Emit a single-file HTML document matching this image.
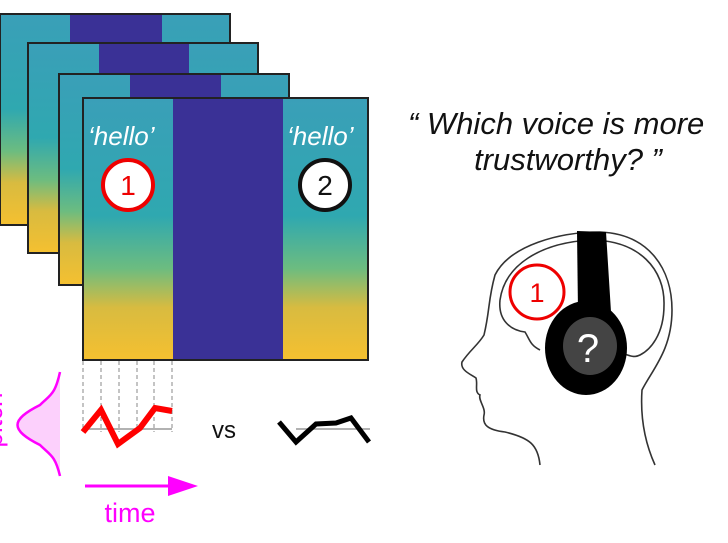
<!DOCTYPE html>
<html><head><meta charset="utf-8"><style>
html,body{margin:0;padding:0;background:#fff;width:728px;height:543px;overflow:hidden}
svg{display:block}
</style></head><body>
<svg width="728" height="543" viewBox="0 0 728 543" xmlns="http://www.w3.org/2000/svg">
<defs>
<linearGradient id="sp" x1="0" y1="0" x2="0" y2="1">
<stop offset="0" stop-color="#3a9fb8"/><stop offset="0.45" stop-color="#2fa8b0"/>
<stop offset="0.65" stop-color="#6cbc80"/><stop offset="0.8" stop-color="#d8bb40"/><stop offset="1" stop-color="#f5c030"/>
</linearGradient>
</defs>
<g stroke="#222" stroke-width="2">
<rect x="0" y="14" width="230" height="211" fill="url(#sp)"/>
<rect x="70" y="15" width="92" height="209" fill="#3a3196" stroke="none"/>
<rect x="28" y="43" width="230" height="210" fill="url(#sp)"/>
<rect x="99" y="44" width="90" height="208" fill="#3a3196" stroke="none"/>
<rect x="59" y="74" width="230" height="211" fill="url(#sp)"/>
<rect x="130" y="75" width="91" height="209" fill="#3a3196" stroke="none"/>
<rect x="83" y="98" width="285" height="262" fill="url(#sp)"/>
</g>
<rect x="173" y="99" width="110" height="260" fill="#3a3196"/>
<text x="88" y="145" font-family="Liberation Sans,sans-serif" font-style="italic" font-size="26" fill="#fff">‘hello’</text>
<text x="287" y="145" font-family="Liberation Sans,sans-serif" font-style="italic" font-size="26" fill="#fff">‘hello’</text>
<circle cx="128" cy="185" r="25" fill="#fff" stroke="#e00" stroke-width="4"/>
<text x="128" y="195" text-anchor="middle" font-family="Liberation Sans,sans-serif" font-size="28" fill="#e00">1</text>
<circle cx="325" cy="185" r="25" fill="#fff" stroke="#111" stroke-width="4"/>
<text x="325" y="195" text-anchor="middle" font-family="Liberation Sans,sans-serif" font-size="28" fill="#111">2</text>
<g stroke="#888" stroke-width="1" stroke-dasharray="4,3">
<line x1="83" y1="361" x2="83" y2="432"/><line x1="101" y1="361" x2="101" y2="432"/><line x1="119" y1="361" x2="119" y2="432"/><line x1="137" y1="361" x2="137" y2="432"/><line x1="154" y1="361" x2="154" y2="432"/><line x1="172" y1="361" x2="172" y2="432"/>
</g>
<line x1="83" y1="429" x2="172" y2="429" stroke="#999" stroke-width="1.5"/>
<polyline points="83,432 101,410 118,444 140,428 155,408 172,411" fill="none" stroke="#f00" stroke-width="6"/>
<text x="224" y="438" text-anchor="middle" font-family="Liberation Sans,sans-serif" font-size="24" fill="#111">vs</text>
<line x1="296" y1="429" x2="370" y2="429" stroke="#999" stroke-width="1.5"/>
<polyline points="279,422 296,442 316,424 336,423 351,418 369,442" fill="none" stroke="#000" stroke-width="5"/>
<path d="M60,372 C55,395 50,395 40,405 C10,420 10,430 40,445 C50,455 55,455 60,476 Z" fill="#fcd0fc"/>
<path d="M60,372 C55,395 50,395 40,405 C10,420 10,430 40,445 C50,455 55,455 60,476" fill="none" stroke="#f0f" stroke-width="2.5"/>
<text transform="translate(2,420) rotate(-90)" text-anchor="middle" font-family="Liberation Sans,sans-serif" font-size="26" fill="#f0f">pitch</text>
<line x1="85" y1="486" x2="172" y2="486" stroke="#f0f" stroke-width="3"/>
<polygon points="168,476 198,486 168,496" fill="#f0f"/>
<text x="130" y="522" text-anchor="middle" font-family="Liberation Sans,sans-serif" font-size="27" fill="#f0f">time</text>
<text x="408" y="134" font-family="Liberation Sans,sans-serif" font-style="italic" font-size="31" fill="#111">“ Which voice is more</text>
<text x="568" y="170" text-anchor="middle" font-family="Liberation Sans,sans-serif" font-style="italic" font-size="31" fill="#111">trustworthy? ”</text>
<g fill="none" stroke="#333" stroke-width="1.6">
<path d="M540,465 C538,445 530,438 505,432 C488,430 482,425 484,415 C486,408 478,400 480,395 C474,392 478,385 476,378 C470,374 460,370 462,362 C470,350 478,345 484,335 C490,310 488,300 495,275 C510,245 560,232 600,232 C650,234 672,270 672,310 C672,350 652,370 642,390 C640,420 646,445 655,465"/>
<path d="M500,300 C505,265 540,243 590,240 C640,240 665,270 664,305 C664,335 650,350 640,355 C630,360 625,350 615,355"/>
<path d="M500,300 C498,320 510,330 525,332 C530,340 530,345 540,350"/>
</g>
<circle cx="537" cy="292" r="27" fill="none" stroke="#e00" stroke-width="3"/>
<text x="537" y="302" text-anchor="middle" font-family="Liberation Sans,sans-serif" font-size="27" fill="#e00">1</text>
<path d="M577,231 L606,232 L611,312 L578,312 Z" fill="#000"/>
<ellipse cx="586" cy="348" rx="41" ry="47" fill="#000"/>
<ellipse cx="590" cy="346" rx="27" ry="29" fill="#444"/>
<text x="588" y="362" text-anchor="middle" font-family="Liberation Sans,sans-serif" font-size="40" fill="#fff">?</text>
</svg>
</body></html>
